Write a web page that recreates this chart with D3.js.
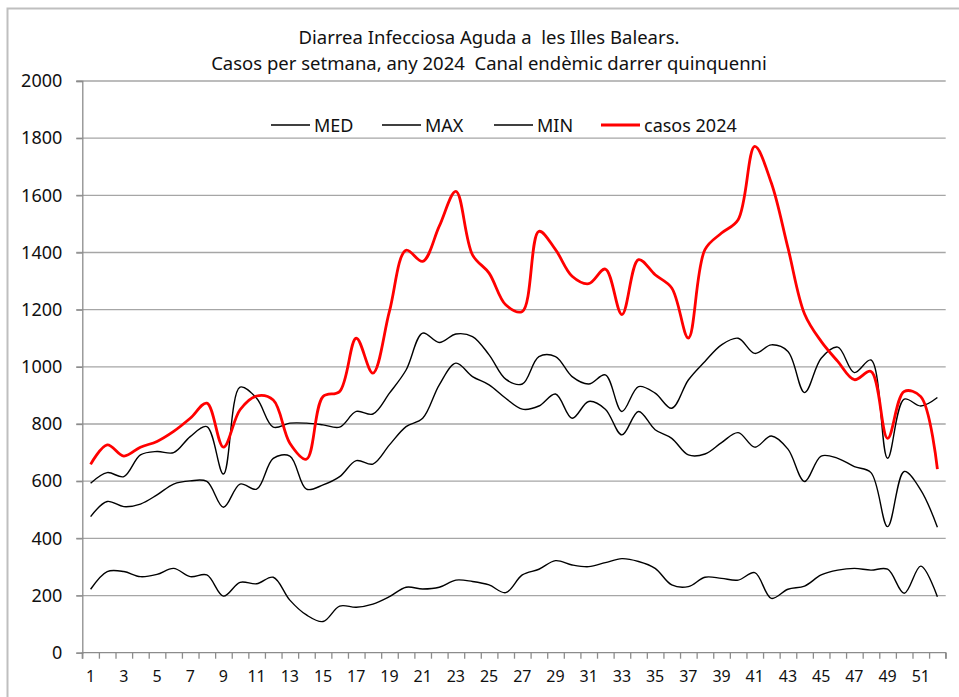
<!DOCTYPE html>
<html>
<head>
<meta charset="utf-8">
<script src="https://cdn.jsdelivr.net/npm/d3@7"></script>
<style>
  body { margin: 0; background: #fff; }
  text { font-family: "Noto Sans", sans-serif; fill: #111; }
</style>
</head>
<body>
<div id="chart"></div>
<script>
const weeks = d3.range(1, 53);

const med = [476, 529, 511, 520, 552, 590, 601, 599, 509, 590, 572, 680, 688, 572, 587, 616, 672, 660, 727, 791,
  820, 937, 1013, 966, 937, 890, 852, 863, 905, 820, 879, 852, 762, 844, 780, 750, 692, 695, 735, 770,
  719, 758, 712, 599, 688, 680, 651, 630, 441, 634, 569, 439];

const max = [593, 630, 616, 692, 704, 700, 756, 791, 625, 929, 890, 789, 803, 803, 797, 789, 844, 835, 908, 989,
  1118, 1085, 1115, 1106, 1042, 957, 940, 1036, 1036, 966, 940, 972, 844, 931, 908, 855, 954, 1019, 1077, 1100,
  1047, 1077, 1054, 910, 1030, 1069, 980, 1024, 680, 887, 863, 893];

const min = [222, 284, 284, 266, 274, 295, 266, 272, 198, 246, 241, 264, 184, 132, 109, 163, 159, 170, 196, 229,
  223, 229, 254, 249, 237, 210, 272, 292, 322, 307, 301, 315, 329, 319, 295, 237, 231, 264, 260, 254,
  280, 190, 222, 233, 272, 289, 295, 289, 292, 208, 303, 196];

const casos2024 = [659, 727, 688, 719, 739, 774, 820, 873, 719, 850, 898, 884, 733, 677, 896, 914, 1100, 978, 1195, 1408,
  1369, 1492, 1614, 1392, 1328, 1217, 1194, 1474, 1410, 1317, 1291, 1342, 1183, 1375, 1322, 1276, 1101, 1410, 1468, 1515,
  1771, 1643, 1416, 1185, 1089, 1019, 955, 984, 750, 914, 896, 642];

const yTicks = [0, 200, 400, 600, 800, 1000, 1200, 1400, 1600, 1800, 2000];
const xTickLabels = [1, 3, 5, 7, 9, 11, 13, 15, 17, 19, 21, 23, 25, 27, 29, 31, 33, 35, 37, 39, 41, 43, 45, 47, 49, 51];

const titleLines = ['Diarrea Infecciosa Aguda a  les Illes Balears.',
  'Casos per setmana, any 2024  Canal endèmic darrer quinquenni'];

const series = [
  { name: 'MED', values: med, color: '#000', width: 1.4 },
  { name: 'MAX', values: max, color: '#000', width: 1.4 },
  { name: 'MIN', values: min, color: '#000', width: 1.4 },
  { name: 'casos 2024', values: casos2024, color: '#ff0000', width: 2.8 }
];

const width = 959;
const height = 697;
const plotLeft = 82.3, plotRight = 945.7, plotTop = 81, plotBottom = 652.7;

const svg = d3.create('svg')
  .attr('width', width)
  .attr('height', height);

d3.select('#chart').append(() => svg.node());

// chart area border (top and left visible)
svg.append('path')
  .attr('d', `M7.5,${height} V8.5 H${width}`)
  .attr('fill', 'none')
  .attr('stroke', '#bfbfbf')
  .attr('stroke-width', 2);

const x = d3.scaleBand()
  .domain(weeks)
  .range([plotLeft, plotRight]);

const xEdge = d3.scaleLinear()
  .domain([0, weeks.length])
  .range([plotLeft, plotRight]);

const y = d3.scaleLinear()
  .domain([0, 2000])
  .range([plotBottom, plotTop]);

// gridlines
svg.append('g')
  .selectAll('line')
  .data(yTicks.filter(d => d > 0))
  .join('line')
  .attr('x1', plotLeft - 6)
  .attr('x2', plotRight)
  .attr('y1', d => y(d))
  .attr('y2', d => y(d))
  .attr('stroke', '#a6a6a6')
  .attr('stroke-width', 1.3);

// y axis
const yAxis = svg.append('g')
  .attr('transform', `translate(${plotLeft},0)`)
  .call(d3.axisLeft(y).tickValues(yTicks).tickSize(6).tickPadding(14).tickFormat(d3.format('d')));
yAxis.select('.domain').attr('stroke', '#8c8c8c').attr('stroke-width', 1.3);
yAxis.selectAll('.tick line').attr('stroke', '#8c8c8c').attr('stroke-width', 1.3);
yAxis.selectAll('text').attr('font-size', 18).attr('font-family', '"Noto Sans", sans-serif').attr('fill', '#111');

// x axis: ticks at week boundaries
const xAxis = svg.append('g')
  .attr('transform', `translate(0,${plotBottom})`)
  .call(d3.axisBottom(xEdge).tickValues(d3.range(0, weeks.length + 1)).tickSize(6).tickFormat(''));
xAxis.select('.domain').attr('stroke', '#8c8c8c').attr('stroke-width', 1.3).attr('d', `M${plotLeft},6V0H${plotRight}V6`);
xAxis.selectAll('.tick line').attr('stroke', '#8c8c8c').attr('stroke-width', 1.3);

// x labels at band centers
svg.append('g')
  .selectAll('text')
  .data(xTickLabels)
  .join('text')
  .attr('x', d => x(d) + x.bandwidth() / 2)
  .attr('y', 682)
  .attr('text-anchor', 'middle')
  .attr('font-size', 16)
  .text(d => d);

// lines
const line = d3.line()
  .x((d, i) => x(weeks[i]) + x.bandwidth() / 2)
  .y(d => y(d))
  .curve(d3.curveCatmullRom.alpha(0.5));

svg.append('g')
  .selectAll('path')
  .data(series)
  .join('path')
  .attr('d', d => line(d.values))
  .attr('fill', 'none')
  .attr('stroke', d => d.color)
  .attr('stroke-width', d => d.width)
  .attr('stroke-linejoin', 'round');

// title
svg.append('g')
  .selectAll('text')
  .data(titleLines)
  .join('text')
  .attr('x', 489)
  .attr('y', (d, i) => 44 + i * 26)
  .attr('text-anchor', 'middle')
  .attr('font-size', 18.5)
  .style('white-space', 'pre')
  .text(d => d);

// legend
const legendX = [271, 382, 494, 601];
const legend = svg.append('g')
  .selectAll('g')
  .data(series)
  .join('g')
  .attr('transform', (d, i) => `translate(${legendX[i]},125)`);

legend.append('line')
  .attr('x1', 0)
  .attr('x2', 39)
  .attr('stroke', d => d.color)
  .attr('stroke-width', d => d.width);

legend.append('text')
  .attr('x', 43)
  .attr('y', 6.5)
  .attr('font-size', 18)
  .text(d => d.name);
</script>
</body>
</html>
